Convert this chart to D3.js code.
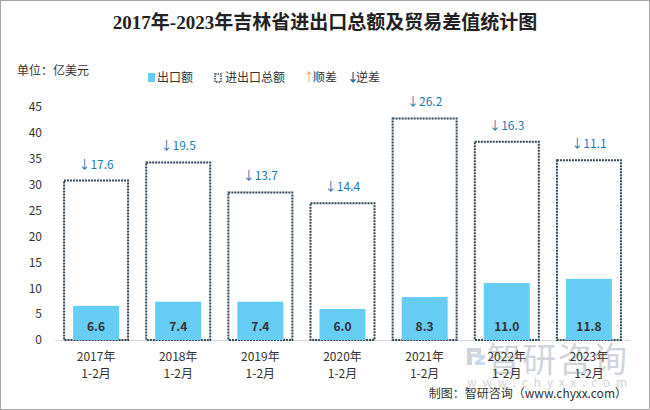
<!DOCTYPE html>
<html><head><meta charset="utf-8">
<script src="https://cdn.jsdelivr.net/npm/d3@7/dist/d3.min.js"></script>
<style>body{margin:0;background:#fff}svg{display:block}</style>
</head><body>
<svg id="c" width="650" height="410"></svg>
<script>
const years = ["2017年","2018年","2019年","2020年","2021年","2022年","2023年"];
const period = "1-2月";
const exportVals = [6.6, 7.4, 7.4, 6.0, 8.3, 11.0, 11.8];
const totalVals = [30.8, 34.3, 28.5, 26.4, 42.8, 38.3, 34.7];
const balanceVals = [-17.6, -19.5, -13.7, -14.4, -26.2, -16.3, -11.1];
const yTicks = [0,5,10,15,20,25,30,35,40,45];

const svg = d3.select("#c");
const font = "'Microsoft YaHei','Noto Sans CJK SC',sans-serif";
svg.append("rect").attr("x",0.5).attr("y",0.5).attr("width",649).attr("height",409)
  .attr("fill","#fff").attr("stroke","#a6a6a6");

const x = d3.scaleBand().domain(years).range([55,630]);
const y = d3.scaleLinear().domain([0,45]).range([340,107]);

svg.append("text").attr("x",325).attr("y",29).attr("text-anchor","middle")
  .attr("font-family","'Liberation Serif','Noto Sans CJK SC',serif").attr("font-weight","bold")
  .attr("font-size",19).attr("fill","#222").text("2017年-2023年吉林省进出口总额及贸易差值统计图");

svg.append("text").attr("x",17).attr("y",75).attr("font-family",font).attr("font-size",12)
  .attr("fill","#333").text("单位：亿美元");

// legend
const lg = svg.append("g").attr("font-family",font).attr("font-size",12).attr("fill","#333");
lg.append("rect").attr("x",148).attr("y",73).attr("width",7).attr("height",9).attr("fill","#66cdf5");
lg.append("text").attr("x",157).attr("y",82).text("出口额");
lg.append("rect").attr("x",215).attr("y",74).attr("width",6).attr("height",8).attr("fill","none")
  .attr("stroke","#2f4656").attr("stroke-width",1.5).attr("stroke-dasharray","1.5,1");
lg.append("text").attr("x",225).attr("y",82).text("进出口总额");
lg.append("text").attr("x",303).attr("y",82).attr("fill","#f0a070").text("↑");
lg.append("text").attr("x",313).attr("y",82).text("顺差");
lg.append("text").attr("x",347).attr("y",82).attr("fill","#1e6fa0").attr("font-weight","bold").text("↓");
lg.append("text").attr("x",356).attr("y",82).text("逆差");

// y axis
const ya = svg.append("g").attr("transform","translate(42,0)")
  .call(d3.axisLeft(y).tickValues(yTicks).tickSize(0).tickPadding(0));
ya.select(".domain").remove();
ya.selectAll("text").attr("font-family",font).attr("font-size",12).attr("fill","#333");

// baseline
svg.append("line").attr("x1",55).attr("x2",630).attr("y1",340.5).attr("y2",340.5)
  .attr("stroke","#d9d9d9").attr("stroke-width",1);

// watermark
const wm = svg.append("g").attr("opacity",0.6);
wm.append("path").attr("d","M467,348 h14 v9 h-9 v8 h-5 z M471,352 h6 v2 h-6 z").attr("fill","#b4b9c4").attr("fill-rule","evenodd");
wm.append("path").attr("d","M476,355 h9 v3 l-5,4 h5 v3 h-10 v-3 l5,-4 h-4 z").attr("fill","#a9c3e3");
wm.append("text").attr("x",487).attr("y",372).attr("font-family",font).attr("font-size",34)
  .attr("fill","#b4b9c4").attr("textLength",140).text("智研咨询");
wm.append("text").attr("x",467).attr("y",387).attr("font-family",font).attr("font-size",12)
  .attr("fill","#b4b9c4").attr("textLength",160).text("www.chyxx.com");

const bw = 64, ew = 46;
const g = svg.append("g");
years.forEach((yr,i)=>{
  const cx = x(yr) + x.bandwidth()/2;
  g.append("rect").attr("x",cx-bw/2).attr("y",y(totalVals[i])).attr("width",bw)
    .attr("height",y(0)-y(totalVals[i])).attr("fill","none").attr("stroke","#2f4656")
    .attr("stroke-width",2).attr("stroke-dasharray","2,1");
  g.append("rect").attr("x",cx-ew/2).attr("y",y(exportVals[i])).attr("width",ew)
    .attr("height",y(0)-y(exportVals[i])).attr("fill","#66cdf5");
  g.append("text").attr("x",cx).attr("y",331).attr("text-anchor","middle")
    .attr("font-family",font).attr("font-size",12).attr("font-weight","bold").attr("fill","#333")
    .text(exportVals[i].toFixed(1));
  const b = balanceVals[i];
  const t = g.append("text").attr("x",cx).attr("y",y(totalVals[i])-12).attr("text-anchor","middle")
    .attr("font-family",font).attr("font-size",12).attr("fill","#1e7bb8");
  t.append("tspan").attr("fill", b<0?"#1e6fa0":"#f0a070").text(b<0?"↓":"↑");
  t.append("tspan").text(Math.abs(b).toFixed(1));
  g.append("text").attr("x",cx).attr("y",361).attr("text-anchor","middle")
    .attr("font-family",font).attr("font-size",12).attr("fill","#333").text(yr);
  g.append("text").attr("x",cx).attr("y",378).attr("text-anchor","middle")
    .attr("font-family",font).attr("font-size",12).attr("fill","#333").text(period);
});

svg.append("text").attr("x",627).attr("y",398).attr("text-anchor","end")
  .attr("font-family","'Noto Sans CJK SC',sans-serif").attr("font-size",12).attr("fill","#333")
  .text("制图：智研咨询（www.chyxx.com）");
</script>
</body></html>
